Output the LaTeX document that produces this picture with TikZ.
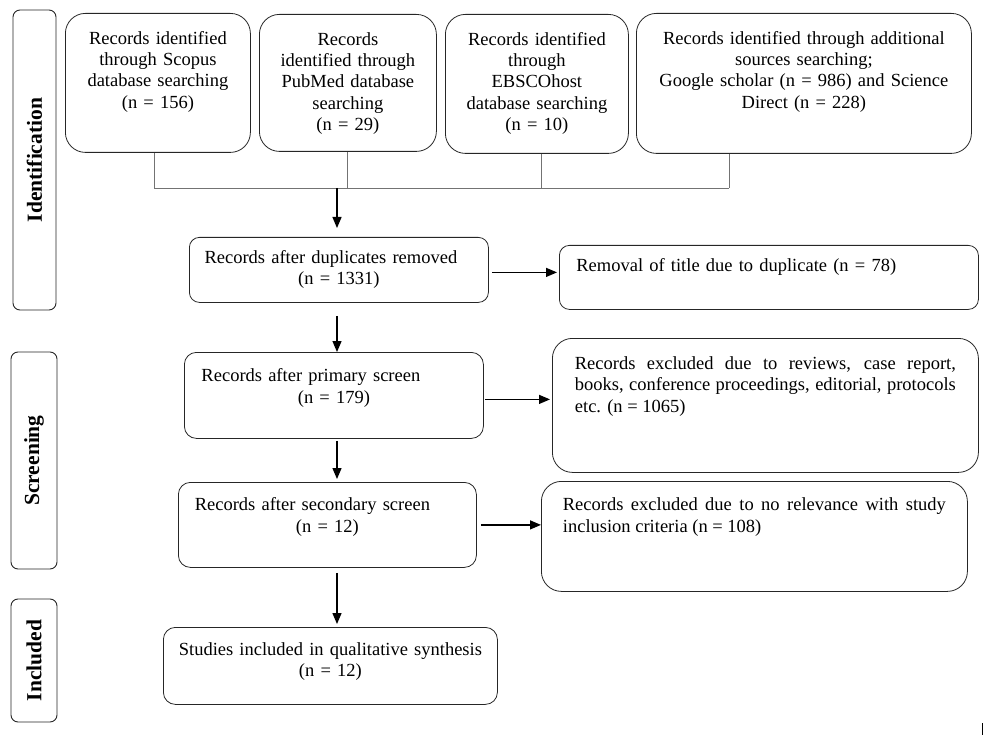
\documentclass[tikz,border=0pt]{standalone}
\usepackage{fontspec}
\setmainfont{Liberation Serif}
\usetikzlibrary{arrows.meta}

\begin{document}
\begin{tikzpicture}[x=1pt,y=-1pt,>={Triangle[length=11pt,width=9pt]},
		box/.style={draw=black!85,line width=0.8pt,rounded corners=#1,anchor=north west,
			inner xsep=5pt,inner ysep=0pt,align=center,font=\fontsize{18.5}{21.3}\selectfont},
		box/.default=12pt,
		stage/.style={draw=black!85,line width=0.9pt,rounded corners=7pt,rotate=90,inner sep=0pt,
			font=\fontsize{21.5}{24}\selectfont\bfseries},
		link/.style={black!55,line width=0.9pt},
		flow/.style={->,line width=1.3pt}]
	\useasboundingbox (0,0) rectangle (990,735);

	% stage labels
	\node[stage,minimum width=300pt,minimum height=43pt] (ident) at (34.5,160) {Identification};
	\node[stage,minimum width=217pt,minimum height=46pt] (screen) at (34,460.5) {Screening};
	\node[stage,minimum width=123pt,minimum height=46pt] (incl) at (34,660.5) {Included};

	% sources
	\node[box=20pt,text width=175pt,text height=31pt,text depth=108pt] (scopus) at (65,13)
		{Records identified\\through Scopus\\database searching\\(n = 156)};
	\node[box=20pt,text width=167pt,text height=31pt,text depth=106pt] (pubmed) at (259,14)
		{Records\\identified through\\PubMed database\\searching\\(n = 29)};
	\node[box=20pt,text width=173pt,text height=31pt,text depth=108pt] (ebsco) at (445,14)
		{Records identified\\through\\EBSCOhost\\database searching\\(n = 10)};
	\node[box=20pt,text width=325pt,text height=31pt,text depth=109pt] (extra) at (636,13)
		{Records identified through additional\\sources searching;\\Google scholar (n = 986) and Science\\Direct (n = 228)};

	% main column
	\node[box=10pt,text width=289pt,text height=26pt,text depth=39pt] (dup) at (189,237)
		{Records after duplicates removed\kern16pt\\(n = 1331)};
	\node[box,text width=289pt,text height=29.5pt,text depth=56.5pt] (primary) at (184,352)
		{Records after primary screen\kern46pt\\(n = 179)};
	\node[box,text width=288pt,text height=28.5pt,text depth=56.5pt] (secondary) at (178,482)
		{Records after secondary screen\kern30pt\\(n = 12)};
	\node[box,text width=324pt,text height=28pt,text depth=49pt] (studies) at (163,627)
		{Studies included in qualitative synthesis\\(n = 12)};

	% exclusions
	\node[box=10pt,inner xsep=17pt,text width=385pt,align=left,text height=26.5pt,text depth=37.5pt] (removal) at (559,245)
		{Removal of title due to duplicate (n = 78)};
	\node[box=20pt,inner xsep=22.5pt,text width=381pt,align=justify,text height=31pt,text depth=103pt] (reviews) at (552,338)
		{Records excluded due to reviews, case report,\linebreak books, conference proceedings, editorial, protocols\linebreak etc. (n = 1065)};
	\node[box=20pt,inner xsep=21.5pt,text width=383pt,align=justify,text height=29.5pt,text depth=80.5pt] (relevance) at (541,481)
		{Records excluded due to no relevance with study\linebreak inclusion criteria (n = 108)};

	% merge of the sources
	\coordinate (spine) at (337,188);
	\foreach \src/\x in {scopus/154,pubmed/347,ebsco/541,extra/729}
		\draw[link] (\src.south -| \x,0) -- (\x,188);
	\draw[link] (154,188) -- (729,188);

	\draw[flow,shorten >=9pt] (spine) -- (dup.north -| spine);
	\draw[flow,shorten <=13pt] (dup.south -| spine) -- (primary.north -| spine);
	\draw[flow,shorten <=2pt,shorten >=3pt] (primary.south -| spine) -- (secondary.north -| spine);
	\draw[flow,shorten <=5pt,shorten >=3pt] (secondary.south -| spine) -- (studies.north -| spine);

	\draw[flow,shorten <=3pt,shorten >=2pt] ([yshift=-2.5pt]dup.east) -- ([yshift=-2.5pt]dup.east -| removal.west);
	\draw[flow,shorten <=1pt,shorten >=2pt] ([yshift=-4pt]primary.east) -- ([yshift=-4pt]primary.east -| reviews.west);
	\draw[flow,shorten <=4pt] (secondary.east) -- (secondary.east -| relevance.west);

	\draw[line width=0.8pt] (982,723) -- (982,735);
\end{tikzpicture}
\end{document}
